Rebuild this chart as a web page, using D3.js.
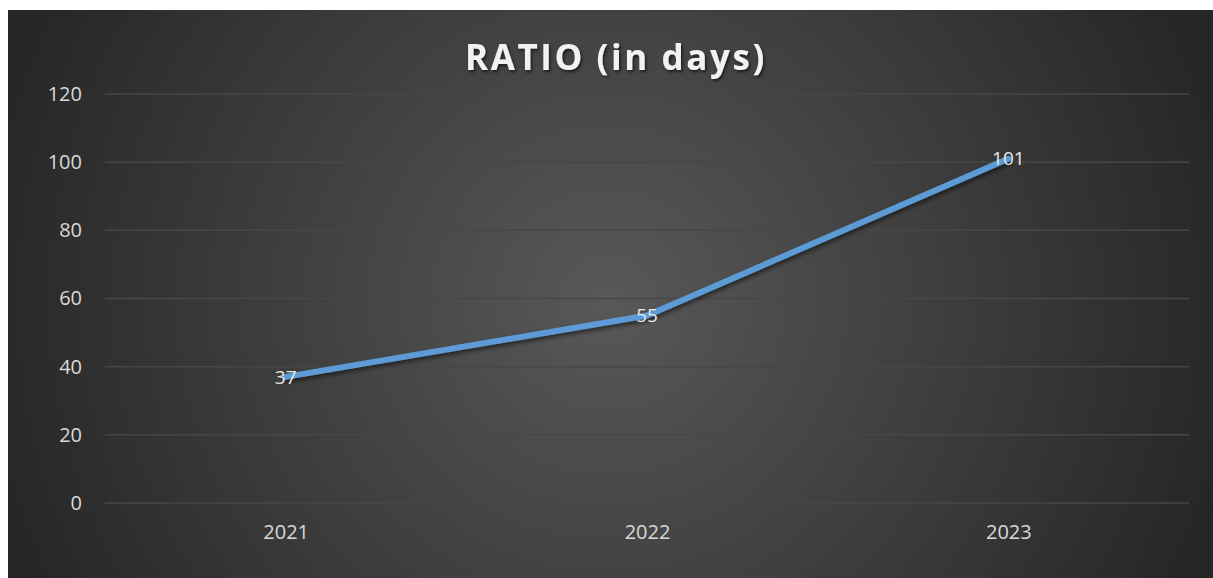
<!DOCTYPE html>
<html>
<head>
<meta charset="utf-8">
<script src="https://cdn.jsdelivr.net/npm/d3@7"></script>
<style>
  html, body { margin: 0; padding: 0; background: #ffffff; }
  svg { display: block; }
</style>
</head>
<body>
<svg id="chart" width="1213" height="578"></svg>
<script>
const categories = ["2021", "2022", "2023"];
const ratioValues = [37, 55, 101];
const yTicks = [0, 20, 40, 60, 80, 100, 120];
const titleText = "RATIO (in days)";

const svg = d3.select("#chart");
const W = 1213, H = 578;
const frame = { x: 8, y: 10, w: W - 8, h: H - 10 };
const plot = { left: 105, right: 1189, top: 94, bottom: 503 };
const font = "'Open Sans', sans-serif";

const defs = svg.append("defs");
const bg = defs.append("radialGradient")
  .attr("id", "bgGrad")
  .attr("gradientUnits", "userSpaceOnUse")
  .attr("cx", 608).attr("cy", 300).attr("r", 640);
bg.append("stop").attr("offset", "0%").attr("stop-color", "#585858");
bg.append("stop").attr("offset", "100%").attr("stop-color", "#262626");

const lineShadow = defs.append("filter").attr("id", "lineShadow")
  .attr("x", "-10%").attr("y", "-10%").attr("width", "120%").attr("height", "130%");
lineShadow.append("feDropShadow")
  .attr("dx", 1.5).attr("dy", 2.5).attr("stdDeviation", 2)
  .attr("flood-color", "#000").attr("flood-opacity", 0.55);

const textShadow = defs.append("filter").attr("id", "textShadow")
  .attr("x", "-10%").attr("y", "-20%").attr("width", "120%").attr("height", "150%");
textShadow.append("feDropShadow")
  .attr("dx", 1.5).attr("dy", 2).attr("stdDeviation", 1.5)
  .attr("flood-color", "#000").attr("flood-opacity", 0.6);

svg.append("rect")
  .attr("x", frame.x).attr("y", frame.y)
  .attr("width", frame.w).attr("height", frame.h)
  .attr("fill", "url(#bgGrad)");

const x = d3.scalePoint()
  .domain(categories)
  .range([plot.left, plot.right])
  .padding(0.5);

const y = d3.scaleLinear()
  .domain([0, 120])
  .range([plot.bottom, plot.top]);

// horizontal gridlines
svg.append("g")
  .selectAll("line")
  .data(yTicks)
  .join("line")
  .attr("x1", plot.left).attr("x2", plot.right)
  .attr("y1", d => y(d)).attr("y2", d => y(d))
  .attr("stroke", "#474747")
  .attr("stroke-width", 1.5);

// y axis labels
const yAxis = d3.axisLeft(y).tickValues(yTicks).tickSize(0).tickPadding(0);
const gy = svg.append("g")
  .attr("transform", `translate(${plot.left - 23},0)`)
  .call(yAxis);
gy.select(".domain").remove();
gy.selectAll("text")
  .attr("fill", "#d9d9d9")
  .attr("font-family", font)
  .attr("font-size", 20);

// x axis labels
const xAxis = d3.axisBottom(x).tickSize(0).tickPadding(0);
const gx = svg.append("g")
  .attr("transform", `translate(0,${plot.bottom + 22})`)
  .call(xAxis);
gx.select(".domain").remove();
gx.selectAll("text")
  .attr("fill", "#d9d9d9")
  .attr("font-family", font)
  .attr("font-size", 20);

// title
svg.append("text")
  .attr("x", 616).attr("y", 70)
  .attr("text-anchor", "middle")
  .attr("fill", "#f2f2f2")
  .attr("font-family", font)
  .attr("font-weight", 700)
  .attr("font-size", 35)
  .attr("letter-spacing", 2.6)
  .attr("filter", "url(#textShadow)")
  .text(titleText);

// line
const line = d3.line()
  .x((d, i) => x(categories[i]))
  .y(d => y(d));

svg.append("path")
  .datum(ratioValues)
  .attr("d", line)
  .attr("fill", "none")
  .attr("stroke", "#5b9bd5")
  .attr("stroke-width", 6)
  .attr("stroke-linejoin", "round")
  .attr("stroke-linecap", "round")
  .attr("filter", "url(#lineShadow)");

// value labels
svg.append("g")
  .selectAll("text")
  .data(ratioValues)
  .join("text")
  .attr("x", (d, i) => x(categories[i]))
  .attr("y", d => y(d))
  .attr("dy", "0.35em")
  .attr("text-anchor", "middle")
  .attr("fill", "#e8e8e8")
  .attr("font-family", font)
  .attr("font-size", 19)
  .text(d => d);
</script>
</body>
</html>
